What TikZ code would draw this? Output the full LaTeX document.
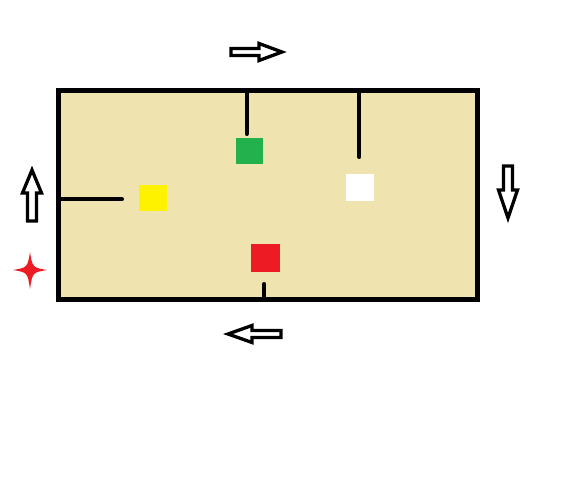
\documentclass[tikz,border=0pt]{standalone}
\definecolor{tan}{RGB}{239,228,176}
\definecolor{paintgreen}{RGB}{34,177,76}
\definecolor{paintyellow}{RGB}{255,242,0}
\definecolor{paintred}{RGB}{237,28,36}
\begin{document}
\begin{tikzpicture}[x=1pt,y=-1pt]
    \useasboundingbox (0,0) rectangle (565,489);
    \draw[line width=5pt,fill=tan](58.5,90.5) rectangle (477.5,299);
    \draw[line width=4pt,line cap=round](246.7,91)--(246.7,134);
    \draw[line width=4pt,line cap=round](359.3,91)--(359.3,157);
    \draw[line width=4pt,line cap=round](59,199.3)--(122,199.3);
    \draw[line width=4pt,line cap=round](264.3,284)--(264.3,298);
    \fill[paintgreen](236,138) rectangle (263,164);
    \fill[paintyellow](139,185) rectangle (167,211);
    \fill[white](346,174) rectangle (374,201);
    \fill[paintred](251,244) rectangle (280,272);
    \draw[line width=3.3pt,fill=white](231,48.5)--(259,48.5)--(259,43.5)--(282,52)--(259,60.5)--(259,55.5)--(231,55.5)--cycle;
    \draw[line width=3.3pt,fill=white](281,330.5)--(252,330.5)--(252,325.5)--(228,334)--(252,342.5)--(252,337.5)--(281,337.5)--cycle;
    \draw[line width=3.3pt,fill=white](27.5,221)--(27.5,193)--(22.5,193)--(32,170)--(41.5,193)--(36.5,193)--(36.5,221)--cycle;
    \draw[line width=3.3pt,fill=white](503.5,166)--(503.5,190)--(498.5,190)--(508,218)--(517.5,190)--(512.5,190)--(512.5,166)--cycle;
    \fill[paintred](30,252)..controls(32.5,267.5)..(47,270)..controls(32.5,272.5)..(30,289)..controls(27.5,272.5)..(13,270)..controls(27.5,267.5)..(30,252);
  \end{tikzpicture}
\end{document}
